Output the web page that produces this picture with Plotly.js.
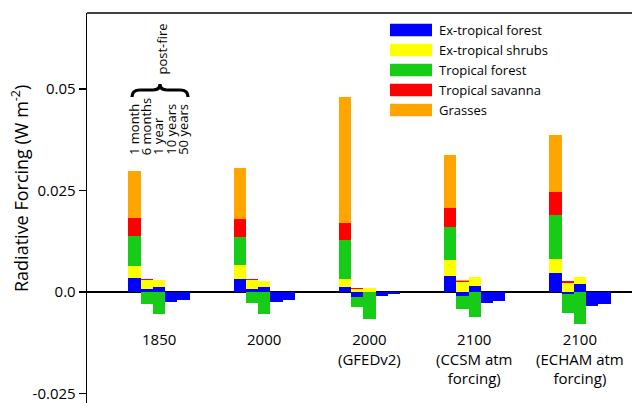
<!DOCTYPE html>
<html>
<head>
<meta charset="utf-8">
<script src="https://cdn.plot.ly/plotly-3.0.1.min.js"></script>
<style>html,body{margin:0;padding:0;background:#fff;}#chart{width:634px;height:403px;}</style>
</head>
<body>
<div id="chart"></div>
<script>
// ---- data ----
const groupLabels = ['1850', '2000', '2000<br>(GFEDv2)', '2100<br>(CCSM atm<br>forcing)', '2100<br>(ECHAM atm<br>forcing)'];
const ageLabels = ['1 month', '6 months', '1 year', '10 years', '50 years'];
const biomeNames = ['Ex-tropical forest', 'Ex-tropical shrubs', 'Tropical forest', 'Tropical savanna', 'Grasses'];
const biomeColors = ['#0000ff', '#ffff00', '#17cc17', '#ff0000', '#ffa500'];

// values per group (rows) and age after fire (columns), W m-2
const exTropicalForest = [
  [0.0034, 0.0007, 0.0013, -0.0025, -0.0020],
  [0.0032, 0.0007, 0.0012, -0.0024, -0.0020],
  [0.0013, -0.0012, 0.0000, -0.0009, -0.0006],
  [0.0040, -0.0009, 0.0016, -0.0027, -0.0023],
  [0.0047, -0.0006, 0.0019, -0.0035, -0.0030]
];
const exTropicalShrubs = [
  [0.0031, 0.0022, 0.0016, 0, 0],
  [0.0034, 0.0022, 0.0016, 0, 0],
  [0.0019, 0.0008, 0.0009, 0, 0],
  [0.0039, 0.0025, 0.0020, 0, 0],
  [0.0035, 0.0023, 0.0018, 0, 0]
];
const tropicalForest = [
  [0.0073, -0.0030, -0.0054, 0, 0],
  [0.0070, -0.0027, -0.0053, 0, 0],
  [0.0095, -0.0026, -0.0066, 0, 0],
  [0.0082, -0.0033, -0.0062, 0, 0],
  [0.0108, -0.0045, -0.0080, 0, 0]
];
const tropicalSavanna = [
  [0.0044, 0.0002, 0, 0, 0],
  [0.0045, 0.0002, 0, 0, 0],
  [0.0044, 0.0002, 0, 0, 0],
  [0.0046, 0.0002, 0, 0, 0],
  [0.0057, 0.0004, 0, 0, 0]
];
const grasses = [
  [0.0116, 0.0002, 0, 0, 0],
  [0.0125, 0.0001, 0, 0, 0],
  [0.0309, 0.0001, 0, 0, 0],
  [0.0130, 0.0002, 0, 0, 0],
  [0.0140, 0.0001, 0, 0, 0]
];
const yTickVals = [-0.025, 0, 0.025, 0.05];
const yTickText = ['-0.025', '0.0', '0.025', '0.05'];

// ---- layout helpers ----
const FONT = 'Open Sans, sans-serif';
const barW = 0.116;
const W = 634, H = 403;
const M = {l: 87, r: 2, t: 13, b: 0};
const xRange = [-0.684, 4.494];
const yRange = [-0.02734, 0.06872];
const plotW = W - M.l - M.r, plotH = H - M.t - M.b;
const pxToX = px => xRange[0] + (px - M.l) / plotW * (xRange[1] - xRange[0]);
const pxToY = py => yRange[1] - (py - M.t) / plotH * (yRange[1] - yRange[0]);
const pxToPX = px => (px - M.l) / plotW;
const pxToPY = py => 1 - (py - M.t) / plotH;

const series = [exTropicalForest, exTropicalShrubs, tropicalForest, tropicalSavanna, grasses];
const xs = [];
groupLabels.forEach((g, gi) => ageLabels.forEach((a, ai) => xs.push(gi + (ai - 2) * barW)));

const traces = series.map((s, i) => ({
  type: 'bar',
  name: biomeNames[i],
  x: xs,
  y: s.flat(),
  width: barW,
  marker: {color: biomeColors[i], line: {width: 0}},
  showlegend: false,
  hoverinfo: 'name+y'
}));

const annotations = [];
const shapes = [];

// group labels
groupLabels.forEach((g, gi) => annotations.push({
  text: g, x: gi, xref: 'x', y: pxToY(327), yref: 'y', yanchor: 'top', xanchor: 'center',
  showarrow: false, font: {family: FONT, size: 15, color: '#000'}
}));
// age labels (rotated)
ageLabels.forEach((a, ai) => annotations.push({
  text: a, x: (ai - 2) * barW - 0.01, xref: 'x', y: pxToY(157), yref: 'y', yanchor: 'bottom', xanchor: 'center',
  textangle: -90, showarrow: false, font: {family: FONT, size: 13, color: '#000'}
}));
annotations.push({
  text: 'post-fire', x: pxToX(161), xref: 'x', y: pxToY(77), yref: 'y', yanchor: 'bottom', xanchor: 'center',
  textangle: -90, showarrow: false, font: {family: FONT, size: 13, color: '#000'}
});
// y title
annotations.push({
  text: 'Radiative Forcing (W m<sup>-2</sup>)', x: pxToPX(20), xref: 'paper', y: pxToY(189), yref: 'y',
  xanchor: 'center', yanchor: 'middle', textangle: -90, showarrow: false,
  font: {family: FONT, size: 18, color: '#000'}
});

// brace
const P = (px, py) => pxToX(px).toFixed(5) + ',' + pxToY(py).toFixed(6);
shapes.push({
  type: 'path', xref: 'x', yref: 'y',
  path: 'M' + P(132, 97) + ' Q' + P(132, 90) + ' ' + P(140, 90) + ' L' + P(153, 90) +
        ' Q' + P(160, 90) + ' ' + P(160, 84) + ' Q' + P(160, 90) + ' ' + P(167, 90) +
        ' L' + P(180, 90) + ' Q' + P(188, 90) + ' ' + P(188, 97),
  line: {color: '#000', width: 3.2}
});

// top frame line
shapes.push({type: 'line', xref: 'paper', yref: 'paper', x0: 0, x1: 1, y0: 1, y1: 1, line: {color: '#000', width: 1.3}});

// legend
biomeNames.forEach((n, i) => {
  const cy = 30 + i * 20;
  shapes.push({type: 'rect', xref: 'paper', yref: 'paper', x0: pxToPX(390), x1: pxToPX(432),
    y0: pxToPY(cy + 6.3), y1: pxToPY(cy - 6.3), fillcolor: biomeColors[i], line: {width: 0}});
  annotations.push({text: n, xref: 'paper', yref: 'paper', x: pxToPX(437), y: pxToPY(cy),
    xanchor: 'left', yanchor: 'middle', showarrow: false, font: {family: FONT, size: 13, color: '#000'}});
});

const layout = {
  width: W, height: H, margin: {l: M.l, r: M.r, t: M.t, b: M.b, pad: 0},
  paper_bgcolor: '#fff', plot_bgcolor: '#fff',
  barmode: 'relative', bargap: 0,
  font: {family: FONT, color: '#000'},
  xaxis: {range: xRange, visible: false, fixedrange: true},
  yaxis: {range: yRange, tickvals: yTickVals, ticktext: yTickText, ticks: 'outside', ticklen: 7,
    tickwidth: 1.3, tickcolor: '#000', showline: true, linecolor: '#000', linewidth: 1.3,
    showgrid: false, zeroline: true, zerolinecolor: '#000', zerolinewidth: 1.5,
    tickfont: {family: FONT, size: 15, color: '#000'}, fixedrange: true},
  annotations: annotations, shapes: shapes, showlegend: false
};

Plotly.newPlot('chart', traces, layout, {displayModeBar: false, staticPlot: true});
</script>
</body>
</html>
